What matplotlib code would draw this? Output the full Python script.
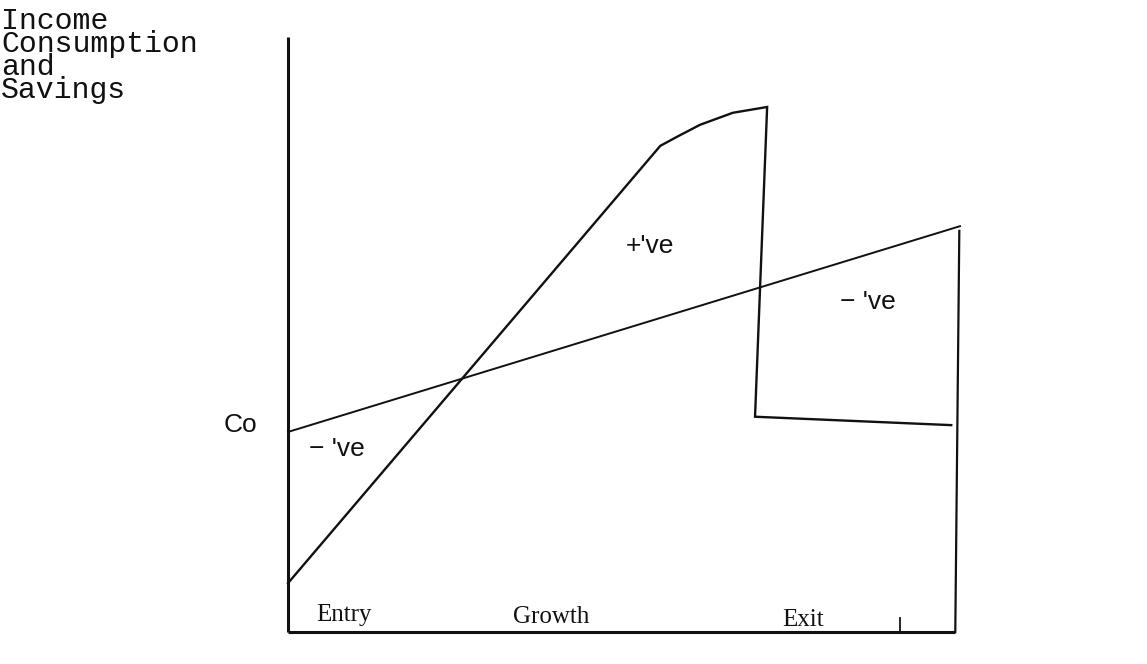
import matplotlib
matplotlib.use("Agg")
import matplotlib.pyplot as plt

# ---- data (x: life-cycle time 0..100, y: amount 0..100) ----
consumption_x = [0.0, 100.0]
consumption_y = [38.1, 77.3]

income_x = [0.0, 55.4, 58.0, 61.3, 66.2, 71.3, 69.5, 98.7]
income_y = [9.3, 92.6, 94.4, 96.6, 98.9, 100.0, 41.0, 39.4]

end_line_x = [99.9, 99.3]
end_line_y = [76.4, 0.0]

exit_tick_x = [91.1, 91.1]
exit_tick_y = [0.0, 2.7]

axis_top = 113.3
axis_right = 99.3

title_lines = ["Income", "Consumption", "and", "Savings"]
stage_labels = ["Entry", "Growth", "Exit"]
stage_x = [8.3, 39.1, 76.6]
stage_y = [3.2, 2.9, 2.3]

region_labels = ["\u2212 've", "+'ve", "\u2212 've"]
region_x = [7.3, 53.9, 86.3]
region_y = [34.9, 73.5, 62.9]

# ---- figure ----
fig = plt.figure(figsize=(11.47, 6.64), dpi=100)
ax = fig.add_axes([0, 0, 1, 1])
ax.set_xlim(-42.86, 127.83)
ax.set_ylim(-6.10, 120.38)
ax.axis("off")

ink = "#111111"
# axes lines
ax.plot([0, 0], [0, axis_top], color=ink, lw=2.2, solid_capstyle="butt")
ax.plot([0, axis_right], [0, 0], color=ink, lw=2.2, solid_capstyle="butt")

ax.plot(consumption_x, consumption_y, color=ink, lw=1.4)
ax.plot(income_x, income_y, color=ink, lw=1.7, solid_joinstyle="miter")
ax.plot(end_line_x, end_line_y, color=ink, lw=1.6)
ax.plot(exit_tick_x, exit_tick_y, color=ink, lw=1.3)

# title (y-axis label) as one multi-line text
ax.text(-42.7, 119.0, "\n".join(title_lines), family="Liberation Mono",
        fontsize=21.5, color=ink, ha="left", va="top", linespacing=0.77)

ax.text(-7.1, 39.4, "Co", family="Liberation Sans", fontsize=19, color=ink,
        ha="center", va="center")

for t, x, y in zip(region_labels, region_x, region_y):
    ax.text(x, y, t, family="Liberation Sans", fontsize=19, color=ink,
            ha="center", va="center")

for t, x, y in zip(stage_labels, stage_x, stage_y):
    ax.text(x, y, t, family="Liberation Serif", fontsize=18, color=ink,
            ha="center", va="center")

fig.savefig("out.png", dpi=100)
